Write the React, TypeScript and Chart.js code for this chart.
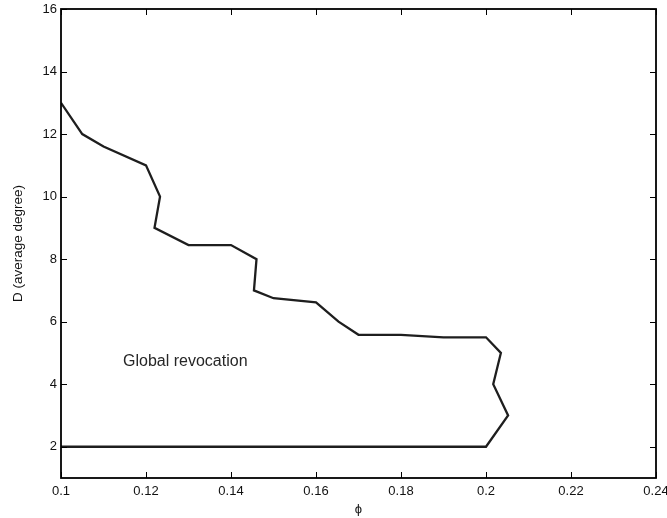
import React, { useEffect, useRef } from "react";
import { Chart, registerables } from "chart.js";

Chart.register(...registerables);

const phi = [0.1, 0.105, 0.11, 0.12, 0.1233, 0.122, 0.13, 0.14, 0.146, 0.1454, 0.15, 0.16, 0.1653, 0.17, 0.18, 0.19, 0.2, 0.2035, 0.2017, 0.2052, 0.2, 0.19, 0.18, 0.17, 0.16, 0.15, 0.14, 0.13, 0.12, 0.11, 0.1];
const degree = [13, 12, 11.6, 11, 10, 9, 8.45, 8.45, 8, 7, 6.75, 6.62, 6, 5.58, 5.58, 5.5, 5.5, 5, 4, 3, 2, 2, 2, 2, 2, 2, 2, 2, 2, 2, 2];
const xTicks = [0.1, 0.12, 0.14, 0.16, 0.18, 0.2, 0.22, 0.24];
const yTicks = [2, 4, 6, 8, 10, 12, 14, 16];
const annotationText = "Global revocation";
const annotationPos = { x: 0.1146, y: 4.72 };

const FONT = "'Liberation Sans', Arial, Helvetica, sans-serif";

const boxPlugin = {
  id: "matlabBox",
  afterDraw(chart: any) {
    const { ctx, chartArea } = chart;
    const xs = chart.scales.x;
    const ys = chart.scales.y;
    const { left, right, top, bottom } = chartArea;
    ctx.save();
    ctx.strokeStyle = "#000";
    ctx.lineWidth = 1;
    const tl = 6;
    ctx.beginPath();
    xTicks.forEach((v) => {
      const px = Math.round(xs.getPixelForValue(v)) + 0.5;
      ctx.moveTo(px, bottom);
      ctx.lineTo(px, bottom - tl);
      ctx.moveTo(px, top);
      ctx.lineTo(px, top + tl);
    });
    yTicks.forEach((v) => {
      const py = Math.round(ys.getPixelForValue(v)) + 0.5;
      ctx.moveTo(left, py);
      ctx.lineTo(left + tl, py);
      ctx.moveTo(right, py);
      ctx.lineTo(right - tl, py);
    });
    ctx.stroke();
    ctx.lineWidth = 1.8;
    ctx.strokeRect(left, top, right - left, bottom - top);
    // annotation
    ctx.fillStyle = "#262626";
    ctx.font = `16px ${FONT}`;
    ctx.textAlign = "left";
    ctx.textBaseline = "middle";
    ctx.fillText(annotationText, xs.getPixelForValue(annotationPos.x), ys.getPixelForValue(annotationPos.y));
    ctx.restore();
  },
};

export default function App() {
  const ref = useRef<HTMLCanvasElement>(null);
  useEffect(() => {
    if (!ref.current) return;
    const chart = new Chart(ref.current, {
      type: "line",
      data: {
        datasets: [
          {
            data: phi.map((x, i) => ({ x, y: degree[i] })),
            borderColor: "#1e1e1e",
            borderWidth: 2.3,
            pointRadius: 0,
            fill: false,
            tension: 0,
          },
        ],
      },
      options: {
        animation: false,
        responsive: false,
        devicePixelRatio: 1,
        parsing: false as any,
        layout: { padding: { top: 9, right: 11, left: 0, bottom: 0 } },
        plugins: { legend: { display: false }, tooltip: { enabled: false } },
        scales: {
          x: {
            type: "linear",
            min: 0.1,
            max: 0.24,
            afterBuildTicks: (s: any) => {
              s.ticks = xTicks.map((v) => ({ value: v }));
            },
            afterFit: (s: any) => {
              s.height = 40;
              s.paddingLeft = 0;
              s.paddingRight = 0;
            },
            ticks: {
              autoSkip: false,
              maxRotation: 0,
              padding: 6,
              color: "#111",
              font: { family: FONT, size: 13 },
              callback: (v: any) => String(parseFloat(Number(v).toFixed(3))),
            },
            grid: { display: false, drawTicks: false },
            border: { display: false },
            title: {
              display: true,
              text: "ϕ",
              color: "#111",
              font: { family: "'Liberation Sans', 'DejaVu Sans', sans-serif", size: 13 },
              padding: { top: 0, bottom: 1 },
            },
          },
          y: {
            type: "linear",
            min: 1,
            max: 16,
            afterBuildTicks: (s: any) => {
              s.ticks = yTicks.map((v) => ({ value: v }));
            },
            afterFit: (s: any) => {
              s.width = 61;
              s.paddingTop = 0;
              s.paddingBottom = 0;
            },
            ticks: {
              autoSkip: false,
              padding: 4,
              color: "#111",
              font: { family: FONT, size: 13 },
            },
            grid: { display: false, drawTicks: false },
            border: { display: false },
            title: {
              display: true,
              text: "D (average degree)",
              color: "#111",
              font: { family: FONT, size: 13.5 },
              padding: { top: 10, bottom: 0 },
            },
          },
        },
      },
      plugins: [boxPlugin],
    });
    return () => chart.destroy();
  }, []);
  return (
    <div style={{ position: "absolute", left: 0, top: 0, width: 667, height: 518, background: "#fff" }}>
      <canvas ref={ref} width={667} height={518} />
    </div>
  );
}
